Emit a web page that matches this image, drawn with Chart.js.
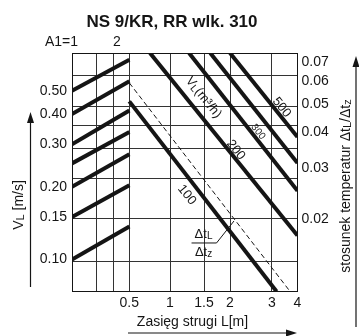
<!DOCTYPE html>
<html><head><meta charset="utf-8">
<script src="https://cdn.jsdelivr.net/npm/chart.js@4.4.1/dist/chart.umd.min.js"></script>
<style>html,body{margin:0;padding:0;background:#fff;overflow:hidden}canvas{display:block}</style>
</head><body><canvas id="c" width="359" height="336"></canvas>
<script>
// ================= DATA =================
const TITLE = 'NS 9/KR, RR wlk. 310';
// bottom axis: jet range L [m]
const L_TICKS = [0.5, 1, 1.5, 2, 3, 4];
const L_TICK_LABELS = ['0.5', '1', '1.5', '2', '3', '4'];
// left axis: V_L [m/s]
const VL_TICKS = [0.10, 0.15, 0.20, 0.30, 0.40, 0.50];
const VL_RANGE = [0.0737, 0.716];
// right axis: temperature ratio
const RATIO_TICKS = [0.02, 0.03, 0.04, 0.05, 0.06, 0.07];
const RATIO_RANGE = [0.0112, 0.075];
const RATIO_GRID = [0.0142, 0.02, 0.0276, 0.0351, 0.042, 0.049, 0.0625];
// top axis: A1
const A1_TICKS = [1, 2];
const A1_TICK_LABELS = ['A1=1', '2'];
const A1_GRID = [1.5, 2];
const A1_RANGE = [1, 44];
// A1 panel lines (V_L at A1=1 and at the panel boundary A1=2.62)
const A1_LINE_X = [1, 2.62];
const A1_LINE_START = [0.50, 0.40, 0.30, 0.25, 0.20, 0.15, 0.10];
const A1_LINE_END = [0.671, 0.547, 0.414, 0.337, 0.273, 0.203, 0.137];
// air volume lines V [m3/h] : [L, ratio] endpoints
const V_NAMES = ['100', '200', '300', '400', '500'];
const V_LINES = [
  [[0.5, 0.0510], [3.18, 0.0112]],
  [[0.754, 0.075], [4, 0.0175]],
  [[1.28, 0.075], [4, 0.0250]],
  [[1.62, 0.075], [4, 0.0312]],
  [[2.0, 0.075], [4, 0.0384]]
];
const DASHED_LINE = [[0.5, 0.0591], [3.71, 0.0112]];
// in-plot labels [text, L, ratio]
const V_LABELS = [['100', 1.246, 0.0242, 13], ['200', 2.138, 0.0346, 13], ['300', 2.667, 0.0400, 10], ['500', 3.373, 0.0486, 13]];
const V_UNIT_LABEL = [1.493, 0.0526];
const FRACTION_LABEL = [1.493, 0.01649];
const FRACTION_LEADER_END = [2.095, 0.01965];

// ================= LAYOUT (not data) =================
const FONT = '"Liberation Sans", Arial, Helvetica, sans-serif';
// fractional position of each L tick along the non-uniform bottom axis
const L_TICK_FRAC = [0.2541, 0.4346, 0.5854, 0.7007, 0.8869, 1.0];
const INK = '#151515';

function lToFrac(v) {
  const a = L_TICKS, f = L_TICK_FRAC; let i = 0;
  if (v >= a[a.length - 1]) i = a.length - 2; else if (v > a[0]) { while (v > a[i + 1]) i++; }
  return f[i] + (v - a[i]) / (a[i + 1] - a[i]) * (f[i + 1] - f[i]);
}
function fracToL(p) {
  const a = L_TICKS, f = L_TICK_FRAC; let i = 0;
  if (p >= f[f.length - 1]) i = f.length - 2; else if (p > f[0]) { while (p > f[i + 1]) i++; }
  return a[i] + (p - f[i]) / (f[i + 1] - f[i]) * (a[i + 1] - a[i]);
}
class NomoScale extends Chart.LinearScale {
  getPixelForValue(v) { return v == null ? NaN : this.getPixelForDecimal(lToFrac(v)); }
  getValueForPixel(p) { return fracToL(this.getDecimalForPixel(p)); }
}
NomoScale.id = 'nomo';
NomoScale.defaults = {};
Chart.register(NomoScale);
Chart.defaults.font.family = FONT;

const datasets = [];
A1_LINE_START.forEach((s, i) => datasets.push({
  label: 'A1 ' + s, xAxisID: 'xA', yAxisID: 'yV',
  data: [{ x: A1_LINE_X[0], y: s }, { x: A1_LINE_X[1], y: A1_LINE_END[i] }],
  showLine: true, borderColor: INK, borderWidth: 4, pointRadius: 0, borderCapStyle: 'butt'
}));
V_LINES.forEach((ln, i) => datasets.push({
  label: 'V ' + V_NAMES[i], xAxisID: 'x', yAxisID: 'yR',
  data: ln.map(p => ({ x: p[0], y: p[1] })),
  showLine: true, borderColor: INK, borderWidth: 4, pointRadius: 0, borderCapStyle: 'butt'
}));
datasets.push({
  label: 'dt', xAxisID: 'x', yAxisID: 'yR',
  data: DASHED_LINE.map(p => ({ x: p[0], y: p[1] })),
  showLine: true, borderColor: INK, borderWidth: 1, borderDash: [5, 3], pointRadius: 0
});

function richWidth(ctx, parts, size) {
  let w = 0;
  for (const p of parts) { ctx.font = (p.sub ? Math.round(size * 0.75) : size) + 'px ' + FONT; w += ctx.measureText(p.t).width; }
  return w;
}
function drawRich(ctx, parts, cx, cy, angle, size) {
  ctx.save(); ctx.translate(cx, cy); ctx.rotate(angle);
  const w = richWidth(ctx, parts, size);
  let xx = -w / 2;
  ctx.textAlign = 'left'; ctx.textBaseline = 'middle';
  for (const p of parts) {
    const s = p.sub ? Math.round(size * 0.75) : size;
    ctx.font = s + 'px ' + FONT;
    ctx.fillText(p.t, xx, p.sub ? size * 0.17 : 0);
    xx += ctx.measureText(p.t).width;
  }
  ctx.restore();
}
function arrow(ctx, x1, y1, x2, y2) {
  const ang = Math.atan2(y2 - y1, x2 - x1), hl = 11, hw = 3.5;
  const bx = x2 - hl * Math.cos(ang), by = y2 - hl * Math.sin(ang);
  ctx.beginPath(); ctx.moveTo(x1, y1); ctx.lineTo(bx, by); ctx.lineWidth = 1.2; ctx.stroke();
  ctx.beginPath(); ctx.moveTo(x2, y2);
  ctx.lineTo(bx + hw * Math.sin(ang), by - hw * Math.cos(ang));
  ctx.lineTo(bx - hw * Math.sin(ang), by + hw * Math.cos(ang));
  ctx.closePath(); ctx.fill();
}

const deco = {
  id: 'deco',
  afterDraw(chart) {
    const ctx = chart.ctx, s = chart.scales, a = chart.chartArea;
    ctx.save();
    ctx.fillStyle = INK; ctx.strokeStyle = INK;
    // title
    ctx.font = 'bold 17px ' + FONT; ctx.textAlign = 'center'; ctx.textBaseline = 'alphabetic';
    ctx.fillText(TITLE, 172, 27);
    // A1 labels
    ctx.font = '14px ' + FONT; ctx.textBaseline = 'middle';
    ctx.textAlign = 'right'; ctx.fillText(A1_TICK_LABELS[0], s.xA.getPixelForValue(A1_TICKS[0]) + 6, 42);
    ctx.textAlign = 'center'; ctx.fillText(A1_TICK_LABELS[1], s.xA.getPixelForValue(A1_TICKS[1]) + 3.5, 42);
    // left title + arrow
    drawRich(ctx, [{ t: 'V' }, { t: 'L', sub: true }, { t: ' [m/s]' }], 19, 205, -Math.PI / 2, 14);
    arrow(ctx, 30.5, 287, 30.5, 112);
    // right title + arrow
    drawRich(ctx, [{ t: 'stosunek temperatur \u0394t' }, { t: 'L', sub: true }, { t: '/\u0394t' }, { t: 'z', sub: true }], 346, 186, -Math.PI / 2, 14);
    arrow(ctx, 356, 327, 356, 56);
    // bottom title + arrow
    ctx.font = '14px ' + FONT; ctx.textAlign = 'center'; ctx.textBaseline = 'alphabetic';
    ctx.fillText('Zasi\u0119g strugi L[m]', 192.5, 326);
    arrow(ctx, 128, 333, 297, 333);
    // line labels
    const ang = 51 * Math.PI / 180;
    V_LABELS.forEach(l => drawRich(ctx, [{ t: l[0] }], s.x.getPixelForValue(l[1]), s.yR.getPixelForValue(l[2]), ang, l[3]));
    drawRich(ctx, [{ t: 'V' }, { t: 'L', sub: true }, { t: '(m\u00b3/h)' }], s.x.getPixelForValue(V_UNIT_LABEL[0]), s.yR.getPixelForValue(V_UNIT_LABEL[1]), ang, 13);
    // fraction label
    const fx = s.x.getPixelForValue(FRACTION_LABEL[0]), fy = s.yR.getPixelForValue(FRACTION_LABEL[1]);
    drawRich(ctx, [{ t: '\u0394t' }, { t: 'L', sub: true }], fx, fy - 9, 0, 13);
    drawRich(ctx, [{ t: '\u0394t' }, { t: 'z', sub: true }], fx, fy + 9, 0, 13);
    ctx.lineWidth = 1; ctx.beginPath();
    ctx.moveTo(fx - 12, fy); ctx.lineTo(fx + 13, fy);
    ctx.lineTo(s.x.getPixelForValue(FRACTION_LEADER_END[0]), s.yR.getPixelForValue(FRACTION_LEADER_END[1]));
    ctx.stroke();
    ctx.restore();
  }
};

const tickFont = { size: 14, family: FONT };
new Chart(document.getElementById('c'), {
  type: 'scatter',
  data: { datasets },
  options: {
    responsive: false, animation: false, devicePixelRatio: 1,
    layout: { padding: 0 },
    plugins: { legend: { display: false }, tooltip: { enabled: false }, title: { display: false } },
    scales: {
      x: {
        type: 'nomo', position: 'bottom', min: 0.5, max: 4,
        afterBuildTicks: sc => { sc.ticks = L_TICKS.map(v => ({ value: v })); },
        afterFit: sc => { sc.height = 44.5; },
        ticks: { autoSkip: false, maxRotation: 0, padding: 3, font: tickFont, color: INK, callback: (v, i) => L_TICK_LABELS[i] },
        grid: { color: '#333', lineWidth: 1, drawTicks: false },
        border: { display: true, color: INK, width: 1 }
      },
      xA: {
        type: 'logarithmic', position: 'top', min: A1_RANGE[0], max: A1_RANGE[1],
        afterBuildTicks: sc => { sc.ticks = A1_GRID.map(v => ({ value: v })); },
        afterFit: sc => { sc.height = 53; },
        ticks: { display: false },
        grid: { color: '#333', lineWidth: 1, drawTicks: false },
        border: { display: true, color: INK, width: 1 }
      },
      yV: {
        type: 'logarithmic', position: 'left', min: VL_RANGE[0], max: VL_RANGE[1],
        afterBuildTicks: sc => { sc.ticks = VL_TICKS.map(v => ({ value: v })); },
        afterFit: sc => { sc.width = 72; },
        ticks: { autoSkip: false, padding: 5, font: tickFont, color: INK, callback: v => Number(v).toFixed(2) },
        grid: { display: false, drawTicks: false },
        border: { display: true, color: INK, width: 1 }
      },
      yg: {
        type: 'logarithmic', position: 'left', min: RATIO_RANGE[0], max: RATIO_RANGE[1],
        afterBuildTicks: sc => { sc.ticks = RATIO_GRID.map(v => ({ value: v })); },
        afterFit: sc => { sc.width = 0; },
        ticks: { display: false },
        grid: { color: '#333', lineWidth: 1, drawTicks: false },
        border: { display: false }
      },
      yR: {
        type: 'logarithmic', position: 'right', min: RATIO_RANGE[0], max: RATIO_RANGE[1],
        afterBuildTicks: sc => { sc.ticks = RATIO_TICKS.map(v => ({ value: v })); },
        afterFit: sc => { sc.width = 61.5; },
        ticks: { autoSkip: false, padding: 4, font: tickFont, color: INK, callback: v => Number(v).toFixed(2) },
        grid: { display: false, drawTicks: false },
        border: { display: true, color: INK, width: 1 }
      }
    }
  },
  plugins: [deco]
});
</script></body></html>
